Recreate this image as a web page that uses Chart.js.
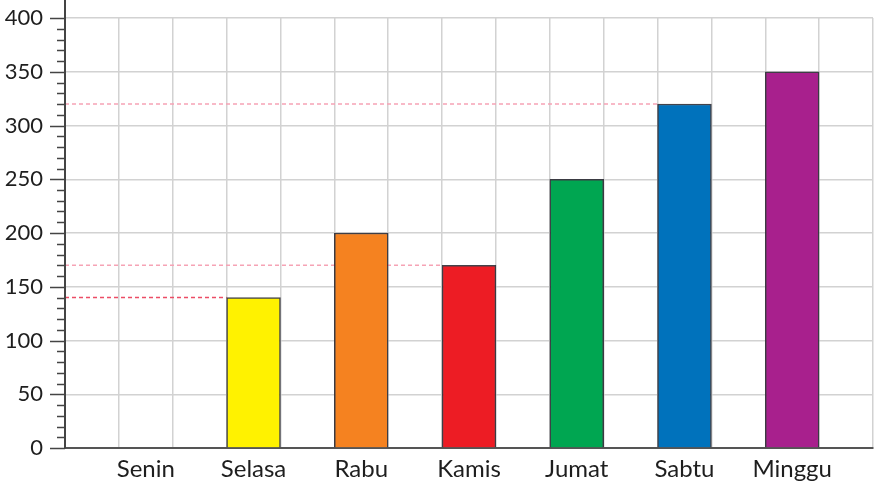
<!DOCTYPE html>
<html>
<head>
<meta charset="utf-8">
<script src="https://cdn.jsdelivr.net/npm/chart.js@4.4.1/dist/chart.umd.min.js"></script>
<style>
  html, body { margin: 0; padding: 0; background: #fff; }
  #wrap { width: 879px; height: 498px; }
</style>
</head>
<body>
<div id="wrap"><canvas id="barChart"></canvas></div>
<script>
// data
const days = ['Senin', 'Selasa', 'Rabu', 'Kamis', 'Jumat', 'Sabtu', 'Minggu'];
const values = [0, 140, 200, 170, 250, 320, 350];
const barColors = ['#ffffff', '#fff200', '#f58220', '#ed1c24', '#00a651', '#0072bc', '#a8208d'];
// garis bantu putus-putus
const guideDays = ['Selasa', 'Kamis', 'Sabtu'];
const guideColors = ['#ec4d66', '#f6a3b5', '#f6a3b5'];
const yMax = 400;
const yStep = 50;
const yMinorStep = 10;

// tiap hari menempati kotak ganjil, kotak genap kosong
const cells = days.length * 2 + 1;
const slotLabels = [], slotValues = [], slotColors = [];
for (let s = 0; s < cells; s++) {
    const i = (s - 1) / 2;
    const isDay = s % 2 === 1;
    slotLabels.push(isDay ? days[i] : '');
    slotValues.push(isDay ? values[i] : null);
    slotColors.push(isDay ? barColors[i] : 'rgba(0,0,0,0)');
}

// garis kecil di sumbu y + sumbu tegak sampai atas
const axisTicks = {
    id: 'axisTicks',
    afterDraw(chart) {
        const y = chart.scales.y;
        const ctx = chart.ctx;
        const left = chart.chartArea.left;
        ctx.save();
        ctx.strokeStyle = '#444';
        ctx.lineWidth = 1.5;
        ctx.beginPath();
        for (let v = 0; v <= yMax; v += yMinorStep) {
            const py = Math.round(y.getPixelForValue(v)) + 0.5;
            const len = v % yStep === 0 ? 15 : 8;
            ctx.moveTo(left - len, py);
            ctx.lineTo(left, py);
        }
        ctx.stroke();
        ctx.lineWidth = 2;
        ctx.beginPath();
        ctx.moveTo(left, 0);
        ctx.lineTo(left, chart.chartArea.bottom);
        ctx.stroke();
        ctx.restore();
    }
};

const guideSets = guideDays.map((d, k) => {
    const i = days.indexOf(d);
    return {
        type: 'line',
        xAxisID: 'xg',
        data: [{ x: 0, y: values[i] }, { x: 2 * i + 1, y: values[i] }],
        borderColor: guideColors[k],
        borderWidth: 1.3,
        borderDash: [4, 3],
        pointRadius: 0,
        fill: false
    };
});

const ctx = document.getElementById('barChart').getContext('2d');
new Chart(ctx, {
    type: 'bar',
    data: {
        labels: slotLabels,
        datasets: [{
            type: 'bar',
            data: slotValues,
            backgroundColor: slotColors,
            borderColor: 'rgba(20, 20, 30, 0.8)',
            borderWidth: 1.5,
            grouped: false,
            barPercentage: 1,
            categoryPercentage: 1
        }, ...guideSets]
    },
    plugins: [axisTicks],
    options: {
        responsive: true,
        maintainAspectRatio: false,
        animation: false,
        layout: { padding: { top: 18, right: 6, left: 0, bottom: 0 } },
        plugins: {
            legend: { display: false },
            tooltip: { enabled: false }
        },
        scales: {
            x: {
                afterFit: function(scale) {
                    scale.height = 50;
                    scale.paddingLeft = 0;
                    scale.paddingRight = 0;
                },
                grid: { color: '#d2d2d2', lineWidth: 1.5, drawTicks: false },
                border: { color: '#555', width: 2 },
                ticks: {
                    autoSkip: false,
                    maxRotation: 0,
                    minRotation: 0,
                    padding: 7,
                    color: '#1e1e1e',
                    font: { family: 'Lato', size: 24 }
                }
            },
            xg: {
                type: 'linear',
                min: 0,
                max: cells,
                offset: false,
                display: false
            },
            y: {
                min: 0,
                max: yMax,
                afterFit: function(scale) {
                    scale.width = 65;
                    scale.paddingTop = 0;
                    scale.paddingBottom = 0;
                },
                grid: { color: '#d2d2d2', lineWidth: 1.5, drawTicks: false },
                border: { color: '#444', width: 2 },
                ticks: {
                    stepSize: yStep,
                    padding: 22,
                    color: '#1e1e1e',
                    font: { family: 'Lato', size: 22 }
                }
            }
        }
    }
});
</script>
</body>
</html>
